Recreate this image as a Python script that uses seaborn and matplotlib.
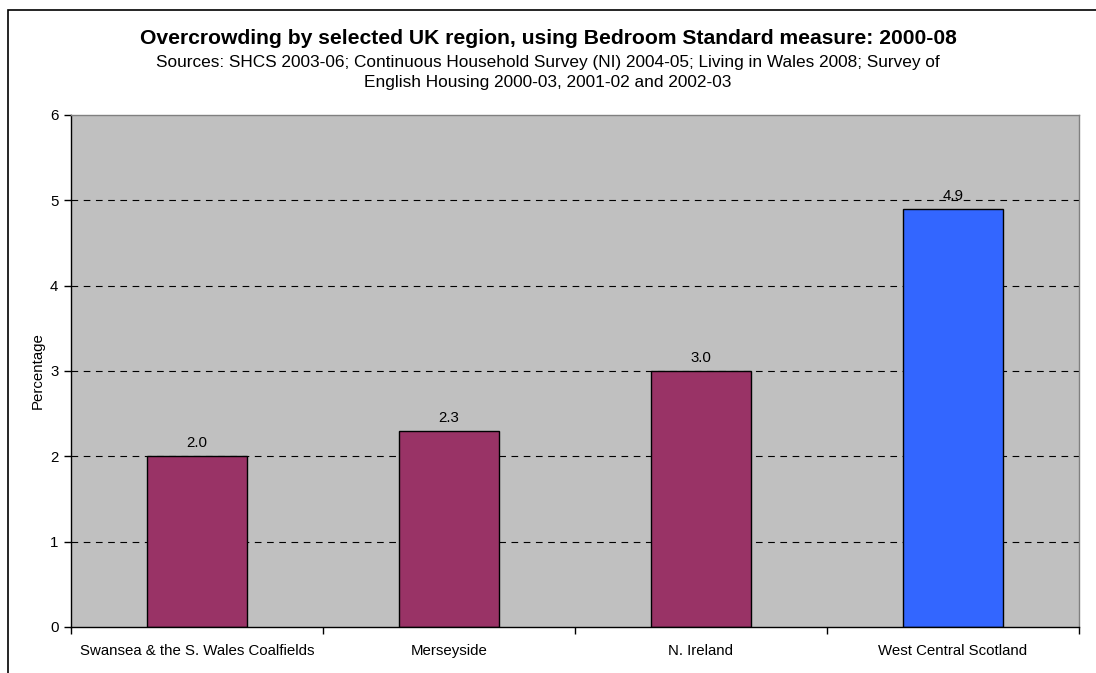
import matplotlib
matplotlib.use("Agg")
import matplotlib.pyplot as plt
import numpy as np
import pandas as pd
import seaborn as sns
from matplotlib.patches import Rectangle

# ---------------------------------------------------------------------
# data
# ---------------------------------------------------------------------
regions = ["Swansea & the S. Wales Coalfields", "Merseyside",
           "N. Ireland", "West Central Scotland"]
overcrowding_pct = [2.0, 2.3, 3.0, 4.9]
bar_colors = ["#993366", "#993366", "#993366", "#3366FF"]
y_ticks = [0, 1, 2, 3, 4, 5, 6]

title = "Overcrowding by selected UK region, using Bedroom Standard measure: 2000-08"
subtitle = ("Sources: SHCS 2003-06; Continuous Household Survey (NI) 2004-05; "
            "Living in Wales 2008; Survey of\nEnglish Housing 2000-03, 2001-02 and 2002-03")

df = pd.DataFrame({"region": regions, "pct": overcrowding_pct})

sns.set_style("white")
plt.rcParams["font.family"] = ["Liberation Sans", "DejaVu Sans"]
plt.rcParams["text.color"] = "black"
plt.rcParams["xtick.color"] = "black"
plt.rcParams["ytick.color"] = "black"
plt.rcParams["axes.labelcolor"] = "black"

fs = 10.8

fig = plt.figure(figsize=(10.96, 6.73), dpi=100)
ax = fig.add_axes([71 / 1096, 1 - 627 / 673, (1079 - 71) / 1096, (627 - 115) / 673])

sns.barplot(data=df, x="region", y="pct", hue="region", palette=bar_colors,
            width=0.4, edgecolor="black", linewidth=1, legend=False, ax=ax,
            saturation=1)

ax.set_facecolor("#C0C0C0")
ax.set_xlim(-0.5, len(regions) - 0.5)
ax.set_ylim(0, 6)
ax.set_yticks(y_ticks)
ax.set_yticklabels([str(t) for t in y_ticks], fontsize=fs)
ax.tick_params(axis="y", length=5, width=1, color="black", pad=4, left=True)

# excel-style category ticks: marks between categories, labels centred
ax.set_xticks(np.arange(-0.5, len(regions), 1.0))
ax.set_xticklabels([])
ax.set_xticks(np.arange(len(regions)), minor=True)
ax.set_xticklabels(regions, minor=True, fontsize=fs)
ax.tick_params(axis="x", which="major", length=5, width=1, color="black", bottom=True)
ax.tick_params(axis="x", which="minor", length=0, pad=12)

for yv in y_ticks[1:-1]:
    ax.axhline(yv, color="black", linewidth=0.8, linestyle=(0, (6, 5)), zorder=0.5)
ax.set_axisbelow(True)

for s in ["left", "bottom"]:
    ax.spines[s].set_color("black")
    ax.spines[s].set_linewidth(1)
for s in ["top", "right"]:
    ax.spines[s].set_color("#808080")
    ax.spines[s].set_linewidth(1)

for i, v in enumerate(overcrowding_pct):
    ax.text(i, v + 0.07, f"{v:.1f}", ha="center", va="bottom", fontsize=fs)

ax.set_xlabel("")
ax.set_ylabel("Percentage", fontsize=fs, labelpad=4)

fig.text(0.5, 1 - 38 / 673, title, ha="center", va="center",
         fontsize=15.2, fontweight="bold")
fig.text(0.5, 1 - 72.5 / 673, subtitle, ha="center", va="center",
         fontsize=12.4, linespacing=1.45)

# outer chart frame (runs off the right/bottom edge)
fig.patches.append(Rectangle((8 / 1096, -0.05), 1.2, 1 - 10 / 673 + 0.05,
                             transform=fig.transFigure, fill=False,
                             edgecolor="black", linewidth=1.2))

fig.savefig("out.png", dpi=100)
plt.close(fig)
